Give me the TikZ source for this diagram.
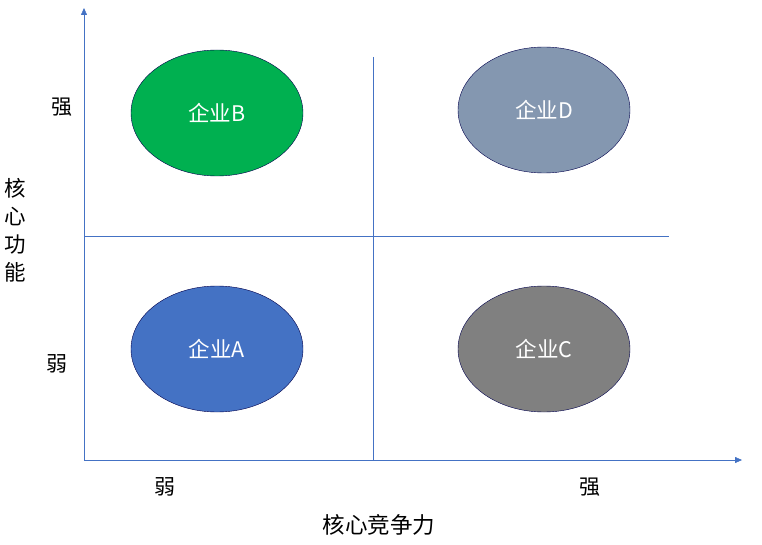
\documentclass[tikz,border=0pt]{standalone}
\usepackage{fontspec}
\setmainfont{Noto Sans CJK SC}
\usetikzlibrary{positioning,shapes.geometric,arrows.meta}
\definecolor{axisblue}{HTML}{4472C4}
\definecolor{firmgreen}{HTML}{00B050}
\definecolor{firmgrayblue}{HTML}{8497B0}
\definecolor{firmgray}{HTML}{808080}
\definecolor{firmblue}{HTML}{4472C4}
\begin{document}
\begin{tikzpicture}[
	x=1pt,
	y=-1pt,
	firm/.style={
		shape=ellipse,
		draw=black!70!blue,
		thin,
		minimum width=172pt,
		minimum height=126pt,
		inner sep=0pt,
		text=white,
		font=\fontsize{21.5}{24}\selectfont,
	},
	level/.style={
		font=\fontsize{21}{24}\selectfont,
	},
	axis/.style={
		draw=axisblue,
		-{Triangle[length=7pt,width=6pt]},
	},
	grid/.style={
		draw=axisblue,
	},
]
\useasboundingbox (0,0) rectangle (762,545);

% axes
\coordinate (origin) at (84,460);
\coordinate (ytop) at (84,8);
\coordinate (xend) at (742,460);
\draw[axis] (origin) -- (ytop);
\draw[axis] (origin) -- (xend);

% quadrant lines
\coordinate (vtop) at (373,57);
\coordinate (vbot) at (373,460);
\coordinate (hleft) at (84,236);
\coordinate (hright) at (669,236);
\draw[grid] (vtop) -- (vbot);
\draw[grid] (hleft) -- (hright);

% firms
\node (firm a) [firm, fill=firmblue] at (217,349) {企业A};
\node (firm b) [firm, fill=firmgreen] at (217,113) {企业B};
\node (firm c) [firm, fill=firmgray] at (544,349) {企业C};
\node (firm d) [firm, fill=firmgrayblue] at (544,110) {企业D};

% labels
\node (y strong) [level] at (62,107) {强};
\node (y weak) [level] at (57,364) {弱};
\node (x weak) [level] at (165,487) {弱};
\node (x strong) [level] at (590,487) {强};
\node (x title) [level, font=\fontsize{22.5}{24}\selectfont] at (379,525) {核心竞争力};
\node (y title) [level, align=center, font=\fontsize{21.5}{28}\selectfont] at (15,230) {核\\心\\功\\能};
\end{tikzpicture}
\end{document}
